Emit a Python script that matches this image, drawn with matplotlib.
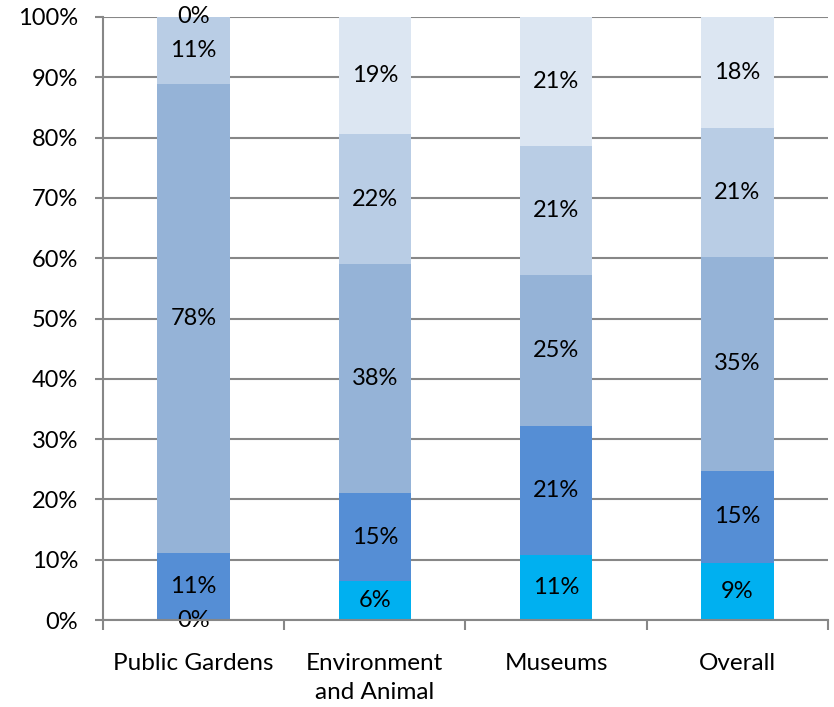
import numpy as np
import matplotlib.pyplot as plt
from matplotlib.ticker import FixedLocator, PercentFormatter

plt.rcParams['font.family'] = ['Lato', 'DejaVu Sans']

categories = ['Public Gardens', 'Environment\nand Animal', 'Museums', 'Overall']

# share of each response level, bottom to top (percent)
level1 = [0.0, 6.4, 10.8, 9.45]
level2 = [11.1, 14.6, 21.4, 15.3]
level3 = [77.8, 38.0, 25.0, 35.45]
level4 = [11.1, 21.6, 21.4, 21.4]
level5 = [0.0, 19.4, 21.4, 18.4]

series = [level1, level2, level3, level4, level5]
colors = ['#00B0F0', '#558ED5', '#95B3D7', '#B9CDE5', '#DCE6F2']

fig = plt.figure(figsize=(8.34, 7.07), dpi=100)
ax = fig.add_axes([0.1235, 0.123, 0.8693, 0.853])

x = np.arange(len(categories))
bottom = np.zeros(len(categories))
for vals, col in zip(series, colors):
    vals = np.array(vals)
    ax.bar(x, vals, 0.4, bottom=bottom, color=col, zorder=2)
    for xi, b, v in zip(x, bottom, vals):
        ax.text(xi, b + v / 2, '{:.0f}%'.format(v), ha='center', va='center',
                fontsize=17, color='black', zorder=3)
    bottom = bottom + vals

grey = '#878787'
ax.set_xlim(-0.5, len(categories) - 0.5)
ax.set_ylim(0, 100)
ax.set_yticks(np.arange(0, 101, 10))
ax.yaxis.set_major_formatter(PercentFormatter(decimals=0))
ax.yaxis.grid(True, color=grey, linewidth=1.5, zorder=0)
ax.set_axisbelow(True)

# category boundaries get the tick marks, centres get the labels
ax.xaxis.set_major_locator(FixedLocator(np.arange(-0.5, len(categories), 1.0)))
ax.xaxis.set_minor_locator(FixedLocator(x))
ax.set_xticklabels([], minor=False)
ax.set_xticklabels(categories, minor=True, fontsize=17.5, linespacing=1.45)
ax.tick_params(axis='x', which='major', length=7, width=1.5, color=grey, direction='out')
ax.tick_params(axis='x', which='minor', length=0, pad=24)
ax.tick_params(axis='y', length=6, width=1.5, color=grey, labelsize=17, pad=12)

for s in ['top', 'right']:
    ax.spines[s].set_visible(False)
for s in ['left', 'bottom']:
    ax.spines[s].set_color(grey)
    ax.spines[s].set_linewidth(1.5)
    ax.spines[s].set_zorder(4)

fig.savefig('out.png', dpi=100)
